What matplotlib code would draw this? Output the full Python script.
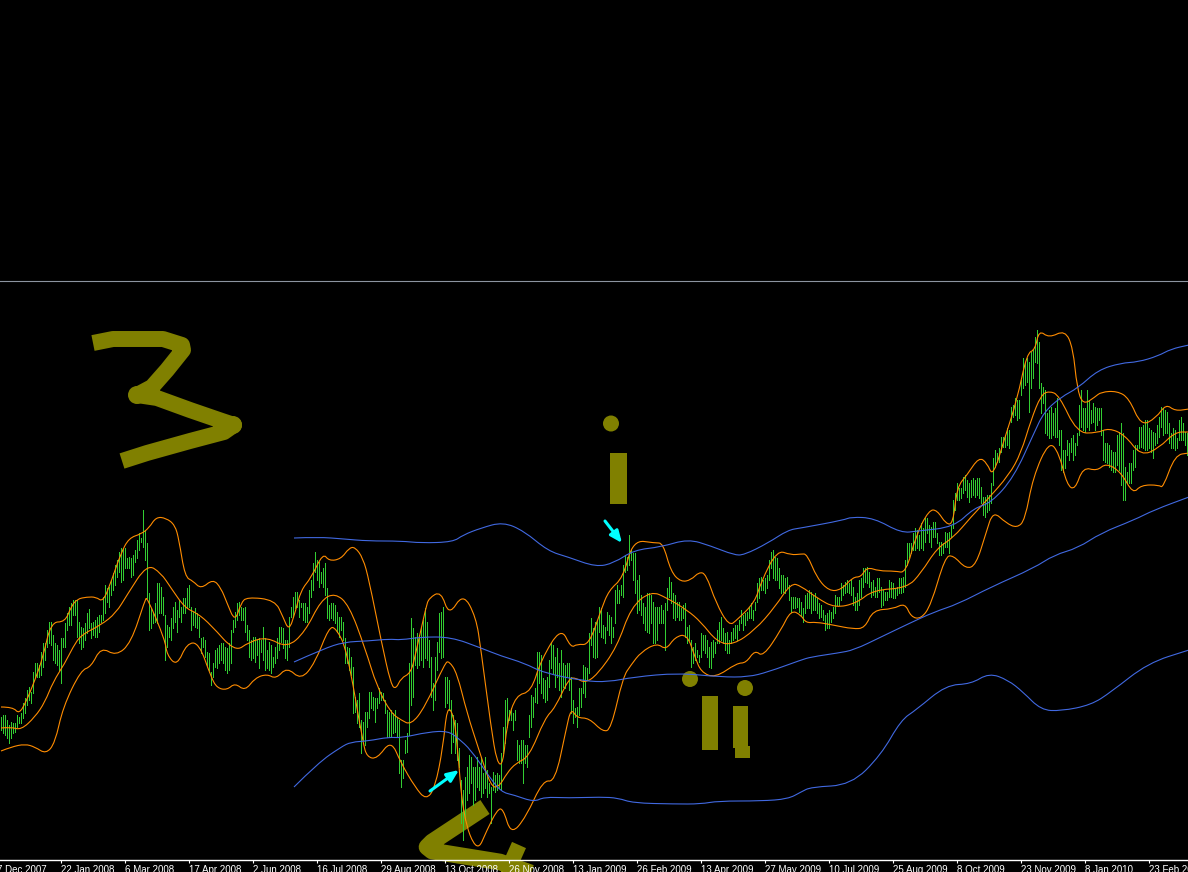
import matplotlib
matplotlib.use("Agg")
import matplotlib.pyplot as plt
from matplotlib.patches import Circle, Polygon, Rectangle, PathPatch
from matplotlib.path import Path

# price bars, one per day, heights are readings above the bottom of the chart
bar_high = [
    143, 145, 145, 140, 135, 138, 137, 137, 145, 143, 147, 157, 162, 170, 173, 168, 188, 197, 197, 195,
    208, 217, 217, 230, 238, 238, 225, 217, 215, 210, 222, 222, 237, 247, 253, 257, 260, 260, 260, 238,
    233, 232, 237, 247, 251, 237, 238, 240, 243, 245, 245, 263, 275, 272, 273, 280, 287, 295, 300, 308,
    312, 311, 312, 302, 303, 302, 305, 310, 320, 327, 322, 350, 330, 317, 267, 252, 247, 257, 277, 277,
    273, 263, 245, 235, 233, 242, 253, 258, 250, 260, 253, 262, 262, 272, 275, 253, 248, 252, 247, 243,
    222, 223, 220, 208, 207, 188, 197, 210, 212, 215, 217, 217, 213, 212, 217, 230, 240, 248, 257, 258,
    253, 252, 253, 235, 230, 220, 223, 223, 220, 222, 220, 233, 222, 210, 218, 215, 203, 213, 222, 233,
    233, 232, 220, 220, 243, 253, 263, 268, 268, 260, 257, 257, 257, 253, 270, 280, 297, 308, 300, 298,
    288, 292, 297, 272, 255, 257, 257, 255, 248, 243, 243, 238, 222, 213, 212, 203, 193, 163, 160, 167,
    140, 138, 148, 148, 168, 168, 163, 162, 162, 172, 168, 167, 160, 150, 148, 150, 147, 150, 143, 140,
    100, 100, 120, 127, 197, 242, 232, 223, 227, 225, 233, 240, 252, 238, 220, 203, 177, 203, 218, 247,
    248, 253, 183, 183, 180, 160, 145, 140, 137, 112, 80, 70, 83, 93, 105, 103, 93, 93, 103, 93,
    103, 87, 103, 90, 77, 73, 88, 85, 87, 85, 107, 133, 160, 162, 150, 152, 147, 150, 120, 115,
    120, 120, 115, 115, 145, 165, 163, 172, 208, 208, 205, 182, 180, 183, 200, 217, 215, 203, 212, 197,
    210, 197, 195, 197, 197, 183, 160, 152, 153, 172, 172, 195, 193, 192, 227, 242, 232, 238, 240, 253,
    252, 235, 233, 248, 245, 243, 233, 270, 275, 270, 275, 295, 305, 303, 325, 310, 307, 307, 280, 285,
    265, 257, 253, 267, 267, 265, 258, 253, 253, 253, 255, 250, 257, 272, 283, 278, 267, 265, 258, 258,
    252, 255, 257, 233, 235, 220, 213, 217, 210, 205, 227, 225, 225, 220, 213, 218, 220, 218, 230, 238,
    243, 232, 227, 228, 220, 228, 232, 235, 235, 240, 250, 245, 247, 248, 253, 257, 250, 258, 277, 282,
    283, 280, 282, 285, 300, 308, 310, 303, 302, 292, 285, 285, 282, 283, 275, 263, 263, 263, 262, 262,
    258, 252, 265, 267, 270, 268, 265, 267, 262, 257, 255, 250, 245, 247, 250, 248, 253, 265, 263, 263,
    277, 275, 278, 280, 277, 280, 273, 263, 267, 280, 282, 292, 292, 293, 288, 278, 280, 273, 282, 282,
    273, 270, 268, 268, 280, 278, 277, 272, 273, 282, 282, 283, 300, 317, 317, 317, 327, 332, 330, 325,
    337, 332, 342, 342, 335, 333, 338, 338, 327, 318, 318, 317, 328, 327, 328, 335, 360, 367, 377, 372,
    372, 383, 385, 380, 377, 380, 382, 380, 382, 382, 373, 363, 363, 365, 365, 377, 402, 410, 407, 412,
    423, 423, 425, 432, 430, 453, 455, 462, 460, 460, 480, 502, 497, 502, 498, 508, 510, 523, 530, 518,
    477, 473, 470, 447, 450, 453, 447, 452, 462, 430, 430, 410, 410, 420, 417, 422, 425, 417, 427, 455,
    470, 452, 452, 470, 460, 450, 457, 453, 452, 452, 452, 430, 417, 417, 415, 410, 408, 408, 425, 428,
    437, 427, 393, 388, 397, 397, 410, 415, 415, 433, 433, 435, 440, 440, 432, 430, 428, 427, 435, 443,
    453, 452, 450, 448, 437, 427, 432, 430, 422, 440, 443, 437, 428, 427,
]
bar_low = [
    130, 127, 125, 122, 117, 122, 127, 128, 133, 137, 137, 142, 147, 155, 160, 157, 167, 183, 183, 183,
    185, 193, 200, 213, 217, 215, 200, 197, 195, 190, 177, 213, 213, 230, 235, 235, 245, 245, 223, 217,
    211, 213, 220, 227, 232, 222, 225, 223, 223, 228, 238, 240, 247, 258, 253, 265, 270, 275, 283, 288,
    278, 280, 292, 292, 292, 283, 285, 298, 302, 310, 318, 313, 300, 262, 230, 232, 237, 238, 237, 247,
    247, 245, 200, 213, 223, 220, 232, 238, 228, 243, 238, 247, 247, 252, 253, 230, 235, 233, 232, 223,
    207, 213, 203, 195, 190, 175, 183, 193, 192, 197, 200, 197, 190, 187, 190, 197, 228, 233, 240, 245,
    240, 240, 228, 220, 203, 200, 202, 198, 205, 192, 208, 200, 190, 192, 190, 187, 193, 197, 202, 210,
    218, 212, 202, 200, 213, 243, 243, 252, 253, 243, 253, 240, 238, 238, 247, 263, 270, 288, 280, 273,
    277, 273, 265, 242, 240, 242, 240, 237, 228, 223, 230, 220, 197, 197, 190, 185, 147, 148, 137, 133,
    107, 120, 115, 133, 142, 152, 150, 138, 152, 157, 160, 160, 147, 123, 123, 123, 127, 128, 123, 87,
    73, 82, 107, 108, 125, 155, 163, 195, 192, 195, 200, 193, 202, 200, 193, 163, 150, 160, 190, 208,
    202, 203, 153, 157, 150, 107, 118, 107, 100, 93, 37, 20, 40, 60, 67, 77, 55, 60, 73, 70,
    63, 67, 72, 63, 67, 37, 70, 68, 70, 72, 70, 107, 117, 133, 140, 140, 130, 140, 100, 97,
    97, 77, 97, 93, 123, 133, 143, 158, 157, 177, 167, 162, 158, 160, 173, 192, 187, 173, 183, 170,
    163, 173, 172, 183, 170, 147, 137, 143, 133, 145, 153, 167, 163, 180, 187, 215, 203, 202, 203, 228,
    223, 222, 217, 230, 225, 217, 223, 237, 257, 257, 265, 263, 288, 290, 295, 300, 280, 267, 247, 250,
    245, 237, 230, 228, 227, 237, 217, 217, 220, 237, 237, 237, 210, 250, 263, 257, 242, 240, 243, 240,
    240, 242, 223, 217, 220, 193, 197, 200, 203, 198, 203, 210, 207, 203, 193, 192, 203, 207, 217, 217,
    220, 217, 210, 207, 207, 217, 220, 222, 220, 230, 237, 230, 235, 240, 242, 242, 240, 250, 258, 262,
    270, 270, 267, 272, 280, 292, 282, 280, 280, 272, 267, 268, 267, 272, 260, 248, 252, 252, 253, 248,
    245, 238, 247, 252, 252, 247, 250, 250, 247, 242, 243, 240, 230, 232, 232, 238, 242, 247, 255, 255,
    260, 265, 267, 268, 267, 265, 255, 250, 250, 255, 263, 273, 278, 277, 273, 263, 265, 263, 263, 268,
    253, 255, 260, 260, 263, 263, 262, 262, 265, 267, 267, 268, 273, 295, 303, 307, 310, 310, 312, 310,
    312, 310, 318, 327, 318, 313, 323, 323, 317, 305, 305, 307, 313, 313, 307, 323, 332, 350, 360, 360,
    362, 367, 370, 363, 358, 363, 365, 363, 365, 362, 357, 345, 343, 348, 350, 357, 375, 393, 398, 398,
    408, 413, 413, 415, 412, 438, 443, 445, 440, 442, 465, 472, 475, 478, 448, 472, 482, 498, 497, 472,
    447, 457, 427, 425, 422, 422, 425, 423, 423, 415, 390, 388, 392, 405, 400, 408, 400, 405, 415, 425,
    433, 430, 428, 433, 430, 437, 438, 430, 435, 440, 425, 400, 398, 397, 393, 390, 388, 388, 395, 390,
    375, 360, 360, 377, 377, 377, 390, 393, 410, 412, 413, 412, 410, 410, 412, 408, 402, 415, 417, 423,
    433, 425, 427, 427, 417, 412, 412, 410, 412, 420, 420, 420, 415, 405,
]

# short moving band, readings taken along the curve (bar number, height)
orange_upper_x = [0, 6, 9, 12.5, 17, 21, 25, 32, 35, 38, 43, 47.5, 51, 55, 60, 64, 70, 74, 77.5, 82.5, 87, 89, 92, 96, 100, 106, 110, 113, 117, 120, 123, 137, 141, 144, 147, 150, 155, 161, 164, 170, 174, 177, 181, 184, 190, 195, 197.5,
                  200, 205, 207.5, 212.5, 214, 220, 224, 231, 237.5, 240, 245, 248, 251, 253, 257.5, 265, 270, 280, 285, 288, 294, 300, 304, 311, 316, 327, 331, 335, 340, 345, 349, 352.5, 357.5, 364, 368, 377, 380, 388, 395,
                  400, 403, 408, 414, 420, 426, 430, 433, 439, 447, 452.5, 457.5, 464, 468, 472.5, 476, 478, 483, 489, 493, 496, 502, 508, 513, 517, 519, 524, 532, 536, 538, 541, 547, 550, 558, 564, 570, 577.5, 582.5, 587, 594]
orange_upper_y = [153, 153, 146, 158, 180, 203, 238, 238, 253, 261, 263, 263, 258, 278, 307, 322, 326, 332, 343, 342, 335, 320, 283, 279, 271, 281, 272, 257, 238, 257, 263, 260, 243, 229, 247, 270, 282, 307, 299, 301, 312, 313, 302, 280, 220, 175, 171,
                  182, 187, 208, 253, 262, 269, 244, 267, 243, 210, 133, 97, 95, 137, 165, 168, 200, 233, 212, 216, 215, 250, 270, 282, 320, 317, 317, 288, 278, 280, 288, 286, 257, 234, 240, 258, 278, 310, 305,
                  306, 306, 282, 269, 270, 283, 283, 293, 289, 289, 287, 325, 350, 350, 336, 336, 373, 385, 403, 397, 383, 423, 460, 507, 510, 530, 522, 530, 512, 472, 455, 463, 468, 469, 462, 434, 442, 456, 449, 451]
orange_mid_x = [0, 5, 10, 17, 22, 26, 32, 36, 40, 50, 57.5, 63, 73, 80, 85, 92, 98, 105, 117, 124, 133, 143, 152, 160, 167, 174, 182, 188, 195,
                200, 205, 212, 222, 224, 228, 233, 239, 245, 249, 253, 257.5, 264, 272, 277, 284, 287.5, 292, 298, 308, 315, 325, 333, 343, 350, 358, 366, 377, 387, 395,
                400, 408, 417, 428, 436, 453, 460, 468, 476, 485, 493, 504, 510, 515, 520, 524, 529, 538, 548, 554, 562, 570, 579, 587, 594]
orange_mid_y = [132, 133, 130, 143, 158, 178, 197, 213, 225, 235, 247, 265, 296, 287, 272, 252, 247, 235, 208, 218, 223, 212, 228, 260, 267, 255, 212, 173, 147,
                140, 135, 153, 197, 199, 187, 147, 110, 73, 73, 87, 97, 103, 142, 152, 182, 182, 177, 185, 213, 253, 269, 262, 250, 238, 218, 215, 230, 253, 277,
                274, 262, 252, 257, 270, 272, 287, 312, 322, 343, 360, 385, 407, 440, 465, 469, 465, 427, 427, 432, 425, 404, 412, 428, 428]
orange_lower_x = [0, 5, 12, 17, 22.5, 27, 31, 40, 45, 50, 57.5, 65, 72, 73, 82, 83, 88, 93, 99, 105, 108, 113, 117, 122, 127, 133, 137.5, 143, 150, 157, 164, 167.5, 173, 181, 183, 188, 195,
                  200, 207, 212.5, 217, 221, 223, 226, 228, 231, 238, 243, 248, 251, 255, 262.5, 271, 277, 282.5, 285, 288, 294, 301, 305, 311, 315, 320, 328, 332.5, 337, 343, 347, 350, 357, 368, 372.5, 377, 381, 390, 395,
                  400, 402.5, 407.5, 416, 426, 432, 436, 446, 452, 455, 460, 465, 472, 476, 482.5, 487.5, 492.5, 496, 502.5, 508, 512, 516, 524, 529, 533, 537, 541, 548, 552.5, 560, 566, 570, 579, 581, 587, 594]
orange_lower_y = [109, 113, 116, 113, 106, 117, 153, 190, 193, 213, 204, 217, 260, 263, 220, 205, 194, 217, 217, 183, 172, 170, 177, 169, 182, 186, 181, 193, 180, 197, 233, 232, 210, 117, 103, 101, 120,
                  97, 73, 60, 72, 113, 153, 147, 120, 43, 7, 30, 50, 52, 25, 43, 80, 78, 130, 152, 142, 142, 128, 131, 183, 195, 208, 217, 210, 223, 226, 203, 188, 182, 197, 197, 210, 203, 230, 250,
                  245, 237, 238, 235, 231, 232, 250, 251, 257, 243, 241, 255, 303, 305, 291, 295, 327, 349, 337, 332, 340, 383, 419, 407, 375, 370, 393, 389, 397, 388, 366, 375, 375, 372, 405, 407]

# long moving band
blue_upper_x = [146.5, 158.5, 171.5, 183.5, 200, 210, 226, 231, 240, 251, 261.5, 273.5, 283.5, 297.5, 306.5, 316.5, 330, 343.5, 355, 366.5, 371.5, 383.5, 393.5, 400, 421.5, 425, 436.5, 450, 458.5, 476.5, 486.5, 495, 506.5, 516.5, 521.5, 530, 538.5, 548.5, 560, 568.5, 578.5, 585, 594]
blue_upper_y = [322, 323, 321, 319, 319, 317, 318, 325, 332, 338, 329, 309, 303, 293, 297, 310, 313, 321, 314, 305, 305, 317, 330, 332, 340, 343, 342, 327, 329, 333, 352, 357, 383, 427, 448, 463, 472, 490, 497, 498, 504, 511, 515]
blue_mid_x = [146.5, 161, 171.5, 183.5, 194, 200, 210, 225, 240, 250, 261.5, 271.5, 291.5, 303.5, 316.5, 338.5, 360, 373.5, 383.5, 400, 405, 418.5, 426.5, 440, 453.5, 466.5, 478.5, 495, 516.5, 526.5, 538.5, 550, 566.5, 576.5, 594]
blue_mid_y = [198, 211, 218, 219, 221, 220, 223, 223, 212, 204, 197, 187, 179, 178, 183, 187, 183, 183, 188, 200, 203, 207, 210, 223, 236, 248, 256, 273, 292, 305, 312, 327, 340, 350, 363]
blue_lower_x = [146.5, 158.5, 170, 175, 183.5, 194, 200, 213.5, 223.5, 228.5, 235, 243.5, 250, 256.5, 266.5, 271.5, 283.5, 300, 308.5, 316, 336.5, 350, 358.5, 380, 393.5, 400, 405, 425, 440, 450, 457.5, 472.5, 485, 494, 503.5, 511, 520, 530, 545, 555, 573.5, 594]
blue_lower_y = [73, 97, 113, 118, 119, 123, 122, 128, 129, 122, 110, 85, 68, 65, 58, 63, 62, 63, 62, 57, 56, 56, 59, 59, 61, 68, 73, 75, 105, 140, 150, 175, 176, 187, 180, 168, 150, 149, 155, 168, 197, 210]

date_labels = ["7 Dec 2007", "22 Jan 2008", "6 Mar 2008", "17 Apr 2008", "2 Jun 2008", "16 Jul 2008",
               "29 Aug 2008", "13 Oct 2008", "26 Nov 2008", "13 Jan 2009", "26 Feb 2009", "13 Apr 2009",
               "27 May 2009", "10 Jul 2009", "25 Aug 2009", "8 Oct 2009", "23 Nov 2009", "8 Jan 2010", "23 Feb 2010"]
date_bars = [-2, 30, 62, 94, 126, 158, 190, 222, 254, 286, 318, 350, 382, 414, 446, 478, 510, 542, 574]

OLIVE = "#808000"
GREEN = "#32CD32"
ORANGE = "#FF8C00"
BLUE = "#4169E1"

plt.rcParams["font.family"] = ["Liberation Sans", "DejaVu Sans"]
fig = plt.figure(figsize=(11.88, 8.72), dpi=100, facecolor="black")

# hand drawn wave labels sit behind the chart, in screen pixels
paint = fig.add_axes([0, 0, 1, 1], zorder=0)
paint.set_xlim(0, 1188)
paint.set_ylim(872, 0)
paint.axis("off")
paint.plot([0, 1188], [281.5, 281.5], color="#8C94A0", lw=0.8)

three_x = [93, 113, 163, 182, 183, 167, 152, 137, 157, 190, 222, 234, 224, 190, 147, 122]
three_y = [343, 339, 339, 345, 350, 370, 387, 395, 398, 410, 421, 425, 432, 441, 453, 461]
paint.plot(three_x, three_y, color=OLIVE, lw=11.5, solid_joinstyle="round", solid_capstyle="butt")
paint.add_patch(Circle((137, 395), 9, color=OLIVE, lw=0))
paint.add_patch(Circle((233, 425), 9, color=OLIVE, lw=0))

paint.add_patch(Circle((611, 423.5), 8, color=OLIVE, lw=0))
paint.add_patch(Rectangle((610, 453), 17, 51, color=OLIVE, lw=0))
paint.add_patch(Circle((690, 679), 8, color=OLIVE, lw=0))
paint.add_patch(Rectangle((702, 696), 16, 54, color=OLIVE, lw=0))
paint.add_patch(Circle((745, 688), 8, color=OLIVE, lw=0))
paint.add_patch(Rectangle((733, 706), 15, 42, color=OLIVE, lw=0))
paint.add_patch(Rectangle((735, 746), 15, 12, color=OLIVE, lw=0))

four_x = [485, 432, 427, 432, 500, 545, 555]
four_y = [807, 842, 847, 851, 862, 878, 882]
paint.plot(four_x, four_y, color=OLIVE, lw=12, solid_joinstyle="round", solid_capstyle="butt")
paint.plot([519, 507, 500], [845, 872, 885], color=OLIVE, lw=11, solid_capstyle="butt")
paint.add_patch(Polygon([(507, 859), (515, 862), (524, 872), (501, 872)], color="#CCC800", lw=0))

ax = fig.add_axes([0, 12 / 872, 1, 578 / 872], zorder=1)
ax.patch.set_visible(False)
ax.set_xlim(-0.5, 593.5)
ax.set_ylim(0, 578)

bars = list(range(len(bar_high)))
ax.vlines(bars, bar_low, bar_high, color=GREEN, lw=0.6, antialiased=False, zorder=2)


def smooth_line(xs, ys, color):
    # quadratic curve through the midpoints, so the band is not drawn as a jagged polyline
    pts = list(zip(xs, ys))
    verts = [pts[0]]
    codes = [Path.MOVETO]
    for i in range(1, len(pts) - 1):
        mid = ((pts[i][0] + pts[i + 1][0]) / 2, (pts[i][1] + pts[i + 1][1]) / 2)
        verts += [pts[i], mid]
        codes += [Path.CURVE3, Path.CURVE3]
    verts.append(pts[-1])
    codes.append(Path.LINETO)
    ax.add_patch(PathPatch(Path(verts, codes), fc="none", ec=color, lw=0.8, zorder=3))


for xs, ys in [(orange_upper_x, orange_upper_y), (orange_mid_x, orange_mid_y), (orange_lower_x, orange_lower_y)]:
    smooth_line(xs, ys, ORANGE)
for xs, ys in [(blue_upper_x, blue_upper_y), (blue_mid_x, blue_mid_y), (blue_lower_x, blue_lower_y)]:
    smooth_line(xs, ys, BLUE)

# cyan arrows
for start, end in [((214.5, 69), (229, 90)), ((302, 339), (310.5, 317))]:
    ax.annotate("", xy=end, xytext=start, zorder=4,
                arrowprops=dict(arrowstyle="-|>,head_length=0.7,head_width=0.3", color="#00FFFF", lw=2.2,
                                shrinkA=0, shrinkB=0))

for s in ["top", "left", "right"]:
    ax.spines[s].set_visible(False)
ax.spines["bottom"].set_color("white")
ax.spines["bottom"].set_linewidth(1)
ax.set_yticks([])
ax.set_xticks(date_bars[1:])
ax.set_xticklabels([])
ax.tick_params(axis="x", color="white", length=2.5, width=0.8)
for b, lab in zip(date_bars, date_labels):
    ax.annotate(lab, xy=(b, 0), xytext=(0, -3.8), textcoords="offset points", ha="left", va="top",
                color="white", fontsize=7, annotation_clip=False)

fig.savefig("out.png", dpi=100, facecolor="black")
